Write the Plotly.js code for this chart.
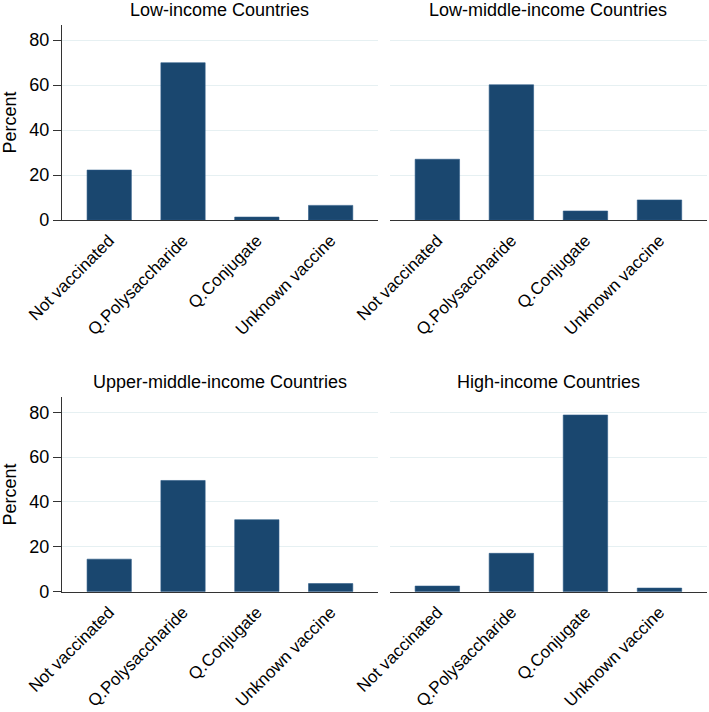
<!DOCTYPE html>
<html>
<head>
<meta charset="utf-8">
<script src="https://cdn.plot.ly/plotly-3.0.1.min.js"></script>
<style>html,body{margin:0;padding:0;background:#fff;}#chart{width:709px;height:712px;}</style>
</head>
<body>
<div id="chart"></div>
<script>
const categories = ["Not vaccinated", "Q.Polysaccharide", "Q.Conjugate", "Unknown vaccine"];
const lowIncome = [22.2, 69.9, 1.3, 6.5];
const lowMiddleIncome = [27.0, 60.1, 4.0, 8.9];
const upperMiddleIncome = [14.5, 49.6, 32.1, 3.6];
const highIncome = [2.5, 17.1, 78.8, 1.6];
const panelTitles = ["Low-income Countries", "Low-middle-income Countries", "Upper-middle-income Countries", "High-income Countries"];
const yTickVals = [0, 20, 40, 60, 80];
const yAxisTitle = "Percent";

const series = [lowIncome, lowMiddleIncome, upperMiddleIncome, highIncome];
const barColor = "#1a476f";
const font = "Liberation Sans, Arial, Helvetica, sans-serif";
const fsTitle = 18;
const fsTick = 17;
const xDomains = [[0.0874, 0.533], [0.550, 0.997], [0.0874, 0.533], [0.550, 0.997]];
const yDomains = [[0.691, 0.965], [0.691, 0.965], [0.169, 0.442], [0.169, 0.442]];

const traces = series.map((vals, i) => ({
  type: "bar",
  x: categories,
  y: vals,
  xaxis: i === 0 ? "x" : "x" + (i + 1),
  yaxis: i === 0 ? "y" : "y" + (i + 1),
  marker: {color: barColor, line: {color: "#2b5b86", width: 0.6}},
  showlegend: false,
  hoverinfo: "x+y"
}));

const layout = {
  width: 709, height: 712,
  margin: {l: 0, r: 0, t: 0, b: 0},
  paper_bgcolor: "#fff", plot_bgcolor: "#fff",
  bargap: 0.4,
  font: {family: font, size: fsTick, color: "#000"},
  annotations: []
};

for (let i = 0; i < 4; i++) {
  const s = i === 0 ? "" : String(i + 1);
  const left = (i % 2 === 0);
  layout["xaxis" + s] = {
    domain: xDomains[i], anchor: "y" + s,
    range: [-0.64, 3.64],
    showline: true, linecolor: "#333", linewidth: 1,
    ticks: "outside", ticklen: 3, tickcolor: "rgba(0,0,0,0)",
    tickangle: -45, showgrid: false, zeroline: false,
    tickfont: {family: font, size: fsTick, color: "#000"},
    fixedrange: true
  };
  layout["yaxis" + s] = {
    domain: yDomains[i], anchor: "x" + s,
    range: [0, 86.7],
    tickvals: yTickVals,
    showline: left, linecolor: "#333", linewidth: 1,
    ticks: left ? "outside" : "", ticklen: 8, tickcolor: "#333",
    showticklabels: left,
    showgrid: true, gridcolor: "#e6f0f2", gridwidth: 1,
    zeroline: false,
    tickfont: {family: font, size: fsTitle, color: "#000"},
    title: left ? {text: yAxisTitle, font: {family: font, size: fsTitle, color: "#000"}, standoff: 10} : {text: ""},
    automargin: false,
    fixedrange: true
  };
  layout.annotations.push({
    text: panelTitles[i],
    xref: "paper", yref: "paper",
    x: (xDomains[i][0] + xDomains[i][1]) / 2,
    y: yDomains[i][1],
    xanchor: "center", yanchor: "bottom",
    yshift: 3,
    showarrow: false,
    font: {family: font, size: fsTitle, color: "#000"}
  });
}

Plotly.newPlot("chart", traces, layout, {displayModeBar: false, staticPlot: true});
</script>
</body>
</html>
